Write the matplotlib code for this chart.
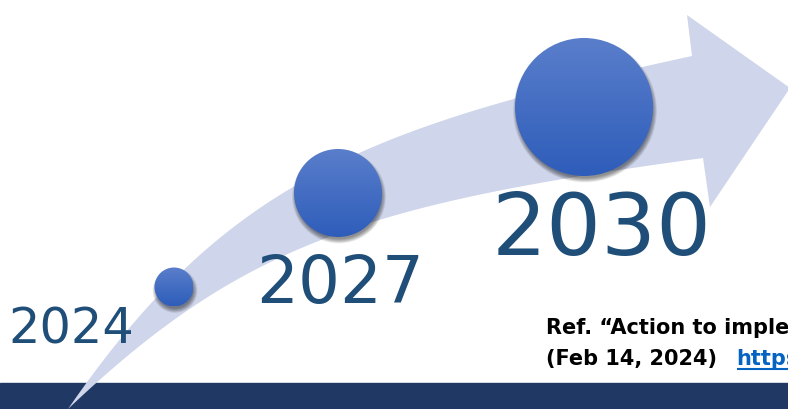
import numpy as np
import matplotlib
matplotlib.use("Agg")
import matplotlib.pyplot as plt
from matplotlib.patches import Polygon, Circle, Rectangle

W, H = 788, 409

# milestones along the arrow
years = ["2024", "2027", "2030"]
ball_x = [174, 338, 584]
ball_y = [287, 193, 107]
ball_r = [19.5, 44, 69]
label_x = [71, 340, 602]
label_y = [343, 303, 255]
label_size = [35.6, 47.4, 62.2]

ref_line1 = "Ref. \u201cAction to imple"
ref_line2 = "(Feb 14, 2024)"
ref_link = "https"

# arrow shaft edges as cubic beziers (start, end, tangent lengths), pixel coords, y down
upper_start, upper_end = (68, 409), (692, 56)
upper_dirs = ((1, -1.45), (1, -0.217))
upper_len = (275, 335)
lower_start, lower_end = (68, 409), (703, 158)
lower_dirs = ((1, -0.95), (1, -0.136))
lower_len = (240, 340)
head = [(687, 15), (790, 88), (710, 207)]

ARROW = "#cfd5ea"
NAVY = "#203864"
TEXT = "#1f4e79"
LINK = "#0563c1"
BALL_TOP = np.array([90, 126, 203]) / 255
BALL_BOT = np.array([46, 93, 186]) / 255


def bezier_edge(p0, p3, dirs, lens, n=120):
    p0, p3 = np.array(p0, float), np.array(p3, float)
    d0 = np.array(dirs[0], float) / np.hypot(*dirs[0])
    d1 = np.array(dirs[1], float) / np.hypot(*dirs[1])
    p1 = p0 + lens[0] * d0
    p2 = p3 - lens[1] * d1
    t = np.linspace(0, 1, n)[:, None]
    return ((1 - t) ** 3 * p0 + 3 * (1 - t) ** 2 * t * p1
            + 3 * (1 - t) * t ** 2 * p2 + t ** 3 * p3)


fig = plt.figure(figsize=(W / 100, H / 100), dpi=100)
ax = fig.add_axes([0, 0, 1, 1])
ax.axis("off")

# footer bar
ax.add_patch(Rectangle((0, 383), W, H - 383, color=NAVY, zorder=1))

# arrow body + head
upper = bezier_edge(upper_start, upper_end, upper_dirs, upper_len)
lower = bezier_edge(lower_start, lower_end, lower_dirs, lower_len)
outline = np.vstack([upper, np.array(head), lower[::-1]])
ax.add_patch(Polygon(outline, closed=True, facecolor=ARROW, edgecolor="none", zorder=2))

# balls with soft drop shadow and vertical gradient
grad = np.linspace(0, 1, 256)[:, None, None]
grad_img = np.repeat(BALL_TOP * (1 - grad) + BALL_BOT * grad, 2, axis=1)
for cx, cy, r in zip(ball_x, ball_y, ball_r):
    for k in range(9):
        ax.add_patch(Circle((cx + 1, cy + 3.5), r - 1.5 + 0.55 * k, facecolor="black",
                            edgecolor="none", alpha=0.06, zorder=3))
    disc = Circle((cx, cy), r, facecolor="none", edgecolor="none")
    ax.add_patch(disc)
    im = ax.imshow(grad_img, extent=(cx - r, cx + r, cy + r, cy - r),
                   zorder=4, interpolation="bilinear", aspect="auto")
    im.set_clip_path(disc)

ax.set_xlim(0, W)
ax.set_ylim(H, 0)

for yr, x, y, s in zip(years, label_x, label_y, label_size):
    ax.text(x, y, yr, fontsize=s, color=TEXT, ha="center", va="baseline",
            family="DejaVu Sans", zorder=5)

# reference note
ax.text(546, 334, ref_line1, fontsize=15, fontweight="bold", color="black",
        va="baseline", ha="left", zorder=5)
ax.text(546, 365, ref_line2, fontsize=15, fontweight="bold", color="black",
        va="baseline", ha="left", zorder=5)
ax.text(736, 365, ref_link, fontsize=15, fontweight="bold", color=LINK,
        va="baseline", ha="left", zorder=5)
ax.plot([737, W], [368.5, 368.5], color=LINK, lw=1.5, zorder=5, solid_capstyle="butt")

fig.savefig("out.png", dpi=100)
